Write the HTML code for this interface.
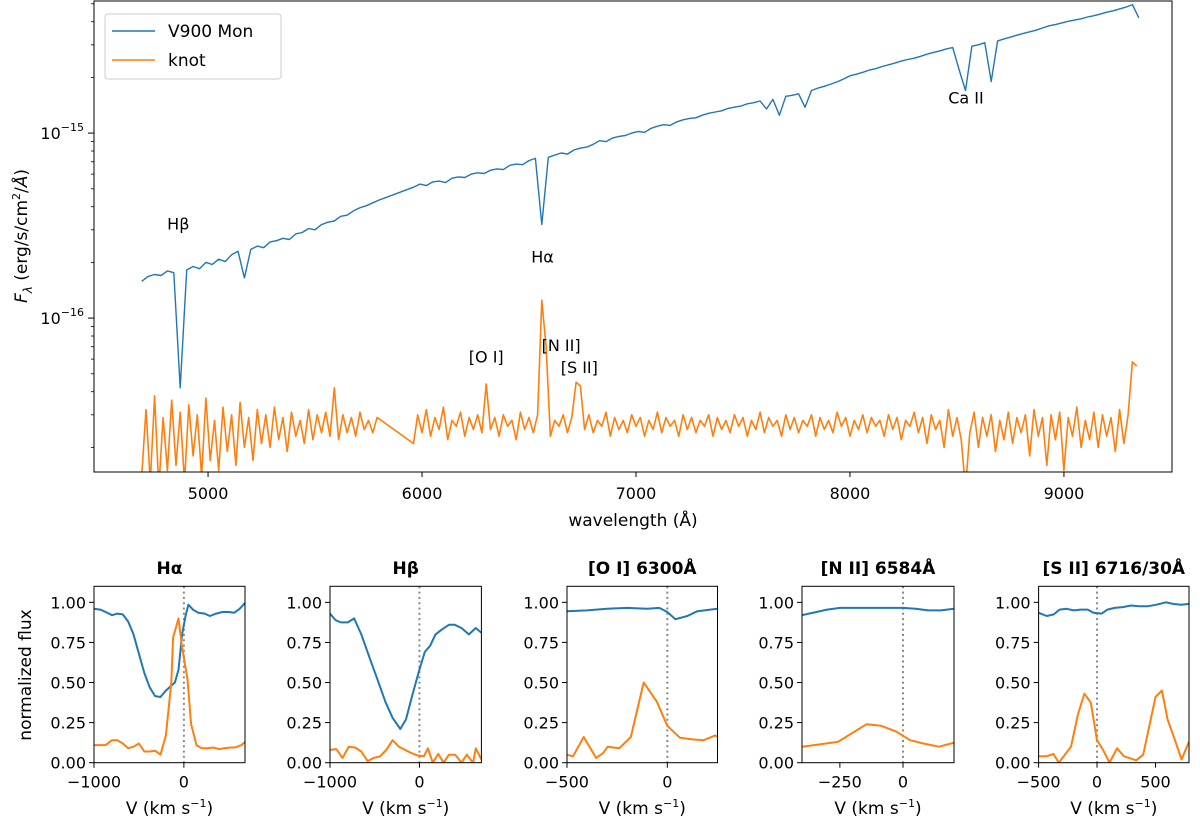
<!DOCTYPE html>
<html><head><meta charset="utf-8">
<style>
html,body{margin:0;padding:0;background:#fff;}
svg{display:block;font-family:"DejaVu Sans","Liberation Sans",sans-serif;}
</style></head>
<body>
<svg id="fig" width="1200" height="821" viewBox="0 0 1200 821" xmlns="http://www.w3.org/2000/svg">
<defs>
<clipPath id="mainclip"><rect x="94" y="1" width="1078" height="471"/></clipPath>
</defs>
<g id="main"></g>
<g id="panels"></g>
</svg>
<script>
// ===== Main spectrum data (flux of V900 Mon in 1e-16, knot in 1e-17) =====
const starStartA = 4690, starStepA = 30;
const starFluxA = [1.58,1.68,1.72,1.70,1.80,1.76,0.42,1.82,1.90,1.85,2.00,1.95,2.08,2.02,2.20,2.30,1.65,2.35,2.45,2.40,2.58,2.62,2.70,2.66,2.85,2.90,3.05,3.00,3.20,3.30,3.35,3.55,3.60,3.80,3.95,4.05,4.20,4.35];
const starStartB = 5960, starStepB = 30;
const starFluxB = [5.10,5.30,5.20,5.45,5.50,5.40,5.70,5.80,5.75,6.00,
6.10,6.05,6.30,6.40,6.35,6.70,6.80,6.75,7.10,7.30,
3.20,7.40,7.60,7.80,7.70,8.10,8.30,8.40,8.70,9.10,
9.00,9.40,9.60,9.70,10.0,10.2,10.1,10.6,10.9,11.1,
11.0,11.5,11.8,12.0,12.1,12.5,12.8,13.0,13.2,13.6,
13.8,14.0,14.4,14.6,14.9,13.5,15.2,12.5,15.8,16.0,
16.3,13.8,17.0,17.5,17.9,18.4,18.9,19.6,20.4,20.8,
21.3,21.9,22.3,22.9,23.4,23.9,24.5,25.0,25.4,26.0,
26.7,27.3,27.8,28.5,29.0,22.0,17.0,29.5,30.0,30.8,
19.0,31.5,32.3,33.0,33.8,34.6,35.3,36.0,37.0,38.0,
38.6,39.4,40.2,40.8,41.5,42.4,43.1,44.0,45.0,45.8,
46.9,48.0,49.5,42.0];
const knotStartA = 4690, knotStepA = 20;
const knotFluxA = [1.4,3.2,1.3,3.8,1.2,2.9,1.5,3.6,1.6,3.1,
1.3,3.4,1.8,3.0,1.4,3.7,1.7,2.8,1.5,3.3,
1.9,3.0,1.6,3.5,2.0,2.9,1.7,3.2,2.1,3.0,
2.0,3.3,2.2,2.9,1.9,3.1,2.3,2.8,2.1,3.2,
2.2,3.0,2.4,3.1,2.3,4.2,2.2,3.0,2.4,2.9,
2.3,3.1,2.5,2.8,2.4,2.9];
const knotStartB = 5960, knotStepB = 20;
const knotFluxB = [2.1,3.0,2.4,3.2,2.3,2.9,2.5,3.3,2.2,2.8,
2.6,3.1,2.3,2.9,2.5,3.0,2.4,4.4,2.5,2.9,
2.3,3.0,2.6,2.8,2.2,3.1,2.5,2.9,2.4,3.0,
12.5,7.0,2.3,2.8,2.6,3.0,2.4,2.9,4.5,4.3,
2.5,3.0,2.4,2.8,2.6,3.1,2.3,2.9,2.5,2.8,
2.4,3.0,2.6,2.9,2.3,2.8,2.5,3.1,2.4,2.9,
2.6,2.8,2.3,3.0,2.5,2.9,2.4,2.8,2.6,3.0,
2.3,2.9,2.5,2.8,2.4,3.0,2.6,2.9,2.3,2.8,
2.5,3.1,2.4,2.9,2.6,2.8,2.3,3.0,2.5,2.9,
2.4,2.8,2.6,3.0,2.3,2.9,2.5,2.8,2.4,3.1,
2.6,2.9,2.3,2.8,2.5,3.0,2.4,2.9,2.6,2.8,
2.3,3.0,2.5,2.9,2.2,2.8,2.6,3.1,2.4,2.9,
2.1,3.0,2.5,2.8,2.0,3.2,2.3,2.9,2.2,1.2,
2.4,3.1,2.0,2.9,2.3,3.0,1.9,2.8,2.2,3.1,
2.1,2.9,2.4,3.0,1.8,3.2,2.3,2.9,1.6,3.0,
2.2,3.1,1.5,2.9,2.3,3.3,2.0,2.8,2.2,3.1,
2.0,3.0,2.3,2.9,1.9,3.2,2.1,3.0,5.8,5.5];
const mainXTicks = [5000,6000,7000,8000,9000];
const mainYMajor = [-16,-15];
const lineLabels = ["Hβ","Hα","[O I]","[N II]","[S II]","Ca II"];
const lineLabelWave = [4861,6563,6300,6650,6735,8542];
const lineLabelLogF = [-15.52,-15.7,-16.24,-16.177,-16.297,-14.84];

// ===== Panel data =====
const panelTitles = ["Hα","Hβ","[O I] 6300Å","[N II] 6584Å","[S II] 6716/30Å"];
const panelXlim = [[-1000,680],[-1000,693],[-500,250],[-400,202],[-500,787]];
const panelXTicks = [[-1000,0],[-1000,0],[-500,0],[-250,0],[-500,0,500]];
const panelYTicks = [0,0.25,0.5,0.75,1.0];
const haV = [-1000,-930,-870,-800,-740,-680,-620,-560,-500,-440,-380,-320,-260,-200,-140,-100,-60,-20,20,50,100,160,230,290,360,430,500,560,620,680];
const haStar = [0.96,0.955,0.94,0.92,0.93,0.925,0.88,0.80,0.68,0.56,0.47,0.415,0.41,0.45,0.48,0.50,0.58,0.80,0.92,0.985,0.955,0.935,0.93,0.915,0.93,0.94,0.94,0.935,0.96,0.995];
const haKnotV = [-1000,-930,-870,-800,-740,-680,-620,-560,-500,-440,-380,-320,-260,-200,-140,-120,-60,-20,40,80,140,200,260,330,390,450,520,570,640,680];
const haKnot = [0.11,0.11,0.11,0.14,0.14,0.12,0.09,0.10,0.12,0.07,0.07,0.075,0.05,0.17,0.50,0.78,0.90,0.72,0.52,0.24,0.11,0.09,0.09,0.095,0.085,0.09,0.095,0.095,0.11,0.13];
const hbV = [-1000,-940,-880,-800,-730,-650,-560,-470,-380,-300,-214,-150,-80,0,60,120,180,250,330,394,470,553,630,693];
const hbStar = [0.93,0.89,0.875,0.875,0.90,0.80,0.66,0.52,0.38,0.28,0.21,0.27,0.42,0.58,0.69,0.73,0.80,0.83,0.86,0.86,0.84,0.80,0.84,0.81];
const hbKnotV = [-1000,-930,-860,-790,-720,-650,-580,-510,-440,-370,-300,-230,-160,-90,-20,50,95,150,210,270,330,400,470,530,600,630,693];
const hbKnot = [0.08,0.085,0.03,0.10,0.095,0.07,0.01,0.03,0.04,0.08,0.14,0.10,0.08,0.06,0.045,0.04,0.09,0.0,0.055,0.0,0.05,0.05,0.0,0.05,0.0,0.09,0.02];
const oiV = [-500,-400,-300,-200,-100,-40,0,40,100,150,250];
const oiStar = [0.945,0.95,0.96,0.965,0.96,0.965,0.94,0.895,0.915,0.945,0.96];
const oiKnotV = [-500,-470,-417,-355,-320,-297,-240,-182,-118,-52,0,63,125,180,239,250];
const oiKnot = [0.05,0.04,0.16,0.03,0.06,0.10,0.09,0.16,0.50,0.38,0.23,0.155,0.145,0.14,0.17,0.16];
const niiV = [-400,-300,-250,-150,0,50,100,150,202];
const niiStar = [0.92,0.955,0.965,0.965,0.965,0.96,0.95,0.95,0.96];
const niiKnotV = [-400,-258,-144,-86,-28,28,81,142,202];
const niiKnot = [0.10,0.13,0.24,0.23,0.195,0.14,0.12,0.10,0.125];
const siiV = [-500,-430,-370,-320,-260,-200,-140,-80,-30,40,90,150,220,290,360,430,510,590,650,720,787];
const siiStar = [0.935,0.915,0.925,0.955,0.96,0.95,0.955,0.955,0.935,0.93,0.955,0.965,0.97,0.98,0.975,0.975,0.985,1.0,0.99,0.985,0.99];
const siiKnotV = [-500,-432,-373,-327,-223,-164,-108,-53,0,52,107,172,231,336,395,500,555,604,662,724,786];
const siiKnot = [0.04,0.04,0.055,0.0,0.10,0.30,0.43,0.375,0.14,0.08,0.0,0.09,0.04,0.015,0.05,0.41,0.45,0.27,0.15,0.02,0.13];

const panelStarV = [haV,hbV,oiV,niiV,siiV];
const panelStar = [haStar,hbStar,oiStar,niiStar,siiStar];
const panelKnotV = [haKnotV,hbKnotV,oiKnotV,niiKnotV,siiKnotV];
const panelKnot = [haKnot,hbKnot,oiKnot,niiKnot,siiKnot];

const NS = "http://www.w3.org/2000/svg";
function mk(tag, attrs, parent){ const e=document.createElementNS(NS,tag); for(const k in attrs) e.setAttribute(k,attrs[k]); parent.appendChild(e); return e; }
const BLUE="#1f77b4", ORANGE="#ff7f0e";

// ===== Main plot axes =====
const M = {l:94, r:1172, t:1, b:472, x0:4467, x1:9505, ylo:-16.832, yhi:-14.286};
function mx(w){ return M.l + (w-M.x0)/(M.x1-M.x0)*(M.r-M.l); }
function myLog(lg){ return M.b - (lg-M.ylo)/(M.yhi-M.ylo)*(M.b-M.t); }
const main = document.getElementById('main');

function seriesPath(start, step, vals, scaleExp){
  let d="";
  vals.forEach((v,i)=>{ const x=mx(start+i*step), y=myLog(Math.log10(v)+scaleExp); d+=(i?"L":"M")+x.toFixed(1)+","+y.toFixed(1); });
  return d;
}
const gclip = mk('g',{'clip-path':'url(#mainclip)'},main);
let kd = seriesPath(knotStartA,knotStepA,knotFluxA,-17) + seriesPath(knotStartB,knotStepB,knotFluxB,-17).replace(/^M/,"L");
const knotLine = mk('path',{d:kd,fill:'none',stroke:ORANGE,'stroke-width':1.6,'stroke-linejoin':'round'},gclip);


let sd = seriesPath(starStartA,starStepA,starFluxA,-16) + seriesPath(starStartB,starStepB,starFluxB,-16).replace(/^M/,"L");
const starLine = mk('path',{d:sd,fill:'none',stroke:BLUE,'stroke-width':1.4,'stroke-linejoin':'round'},gclip);



mk('rect',{x:M.l,y:M.t,width:M.r-M.l,height:M.b-M.t,fill:'none',stroke:'#000','stroke-width':1},main);
mainXTicks.forEach(t=>{
  const x=mx(t);
  mk('line',{x1:x,x2:x,y1:M.b,y2:M.b+5,stroke:'#000','stroke-width':1},main);
  const tx=mk('text',{x:x,y:M.b+27,'text-anchor':'middle','font-size':16},main); tx.textContent=t;
  
  
});
const xl = mk('text',{x:(M.l+M.r)/2,y:526,'text-anchor':'middle','font-size':17},main);
xl.textContent="wavelength (Å)";


for(let dec=-17; dec<=-15; dec++){
  for(let m=1;m<10;m++){
    const lg=dec+Math.log10(m);
    if(lg<M.ylo||lg>M.yhi) continue;
    const y=myLog(lg);
    mk('line',{x1:M.l-(m===1?6:3),x2:M.l,y1:y,y2:y,stroke:'#000','stroke-width':m===1?1:0.8},main);
  }
}
mainYMajor.forEach(p=>{
  const y=myLog(p);
  const t=mk('text',{x:M.l-10,y:y+6,'text-anchor':'end','font-size':16},main);
  t.innerHTML='10<tspan dy="-8" font-size="11">−'+(-p)+'</tspan>';
  
  
});
const yl = mk('text',{transform:'translate(27,236) rotate(-90)','text-anchor':'middle','font-size':17},main);
yl.innerHTML='<tspan font-style="italic">F</tspan><tspan font-style="italic" font-size="12" dy="5">λ</tspan><tspan dy="-5"> (erg/s/cm</tspan><tspan font-size="11" dy="-7">2</tspan><tspan dy="7">/</tspan><tspan font-style="italic">Å</tspan>)';


lineLabels.forEach((s,i)=>{
  const t=mk('text',{x:mx(lineLabelWave[i]),y:myLog(lineLabelLogF[i]),'text-anchor':'middle','font-size':16},main);
  t.textContent=s;
  
  
});
const leg = mk('g',{},main);


mk('rect',{x:105,y:14,width:176,height:65,rx:3,fill:'#fff',stroke:'#ccc','stroke-width':1},leg);
mk('line',{x1:112,x2:155,y1:31,y2:31,stroke:BLUE,'stroke-width':1.5},leg);
mk('line',{x1:112,x2:155,y1:60,y2:60,stroke:ORANGE,'stroke-width':1.5},leg);
const l1=mk('text',{x:168,y:37,'font-size':17},leg); l1.textContent="V900 Mon";


const l2=mk('text',{x:168,y:66,'font-size':17},leg); l2.textContent="knot";



// ===== Panels =====
const panelL = [94,330,567,802,1038.6], panelR=[245,481.4,717.5,954,1189];
const PT=586.3, PB=762.7, PYmax=1.1;
const panels = document.getElementById('panels');
function fmtTick(v){ return v<0 ? "−"+(-v) : String(v); }
panelTitles.forEach((title,p)=>{
  const g = mk('g',{},panels);
  
  
  const L=panelL[p], R=panelR[p], xl0=panelXlim[p][0], xl1=panelXlim[p][1];
  const px = v => L + (v-xl0)/(xl1-xl0)*(R-L);
  const py = f => PB - f/PYmax*(PB-PT);
  const cid='pc'+p;
  const cp=mk('clipPath',{id:cid},g); mk('rect',{x:L,y:PT,width:R-L,height:PB-PT},cp);
  const gc=mk('g',{'clip-path':'url(#'+cid+')'},g);
  mk('line',{x1:px(0),x2:px(0),y1:PT,y2:PB,stroke:'#888','stroke-width':2,'stroke-dasharray':'2,3.3'},gc);
  const sp = panelStarV[p].map((v,i)=>(i?"L":"M")+px(v).toFixed(1)+","+py(panelStar[p][i]).toFixed(1)).join("");
  const s=mk('path',{d:sp,fill:'none',stroke:BLUE,'stroke-width':2,'stroke-linejoin':'round'},gc);
  
  
  const kp = panelKnotV[p].map((v,i)=>(i?"L":"M")+px(v).toFixed(1)+","+py(panelKnot[p][i]).toFixed(1)).join("");
  const k=mk('path',{d:kp,fill:'none',stroke:ORANGE,'stroke-width':2,'stroke-linejoin':'round'},gc);
  
  
  mk('rect',{x:L,y:PT,width:R-L,height:PB-PT,fill:'none',stroke:'#000','stroke-width':1},g);
  panelYTicks.forEach(t=>{
    const y=py(t);
    mk('line',{x1:L-5,x2:L,y1:y,y2:y,stroke:'#000','stroke-width':1},g);
    const tt=mk('text',{x:L-8,y:y+6,'text-anchor':'end','font-size':16},g); tt.textContent=t.toFixed(2);
    
    
  });
  panelXTicks[p].forEach(t=>{
    const x=px(t);
    mk('line',{x1:x,x2:x,y1:PB,y2:PB+5,stroke:'#000','stroke-width':1},g);
    const tt=mk('text',{x:x,y:PB+25,'text-anchor':'middle','font-size':16},g); tt.textContent=fmtTick(t);
    
    
  });
  const ti=mk('text',{x:(L+R)/2,y:574,'text-anchor':'middle','font-size':17,'font-weight':'bold'},g);
  ti.textContent=title;
  
  
  const xt=mk('text',{x:(L+R)/2,y:814,'text-anchor':'middle','font-size':17},g);
  xt.innerHTML='V (km s<tspan font-size="11" dy="-7">−1</tspan><tspan dy="7">)</tspan>';
  
  
});
const nf = mk('text',{transform:'translate(31,675) rotate(-90)','text-anchor':'middle','font-size':17},panels);
nf.textContent="normalized flux";


</script>
</body></html>
